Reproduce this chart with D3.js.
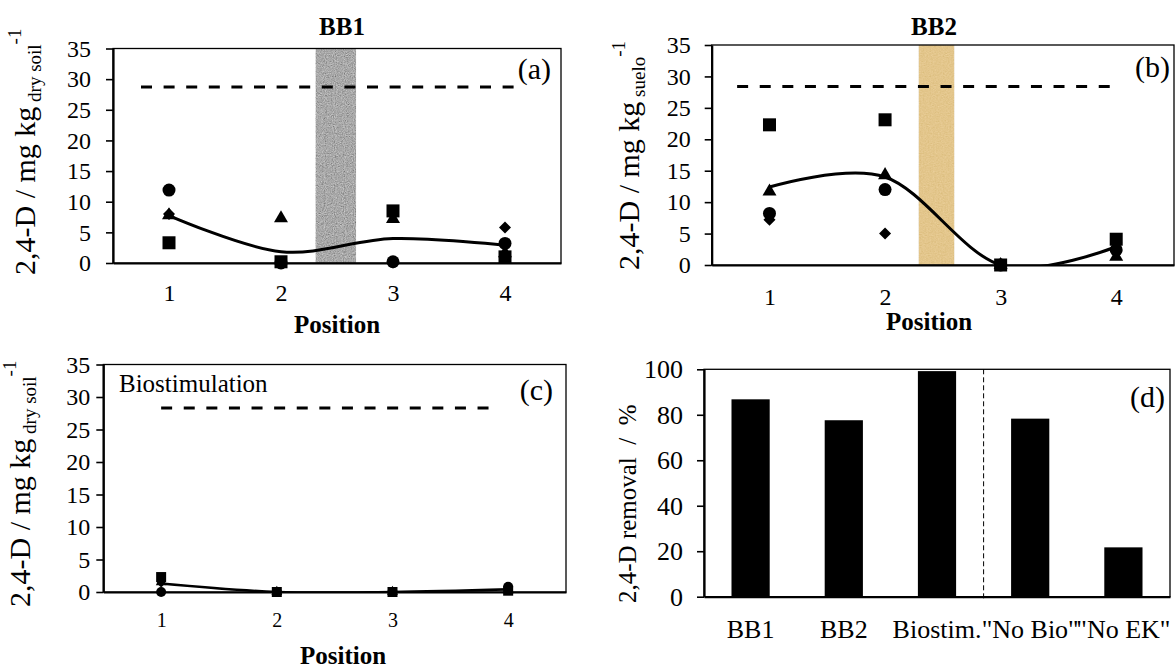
<!DOCTYPE html>
<html><head><meta charset="utf-8">
<script src="https://cdn.jsdelivr.net/npm/d3@7"></script>
<style>
body{margin:0;background:#fff}
svg{display:block;font-family:"Liberation Serif","Times New Roman",serif}
</style>
</head><body>
<svg id="chart" width="1176" height="668"></svg>
<script>
// ---------- DATA ----------
const positions = [1, 2, 3, 4];
const yTicksConc = [0, 5, 10, 15, 20, 25, 30, 35];

// (a) BB1
const bb1Circle   = [11.9, 0.0, 0.2, 3.2];
const bb1Triangle = [7.8, 7.3, 7.2, 1.6];
const bb1Square   = [3.3, 0.2, 8.5, 1.0];
const bb1Diamond  = [8.0, 0.0, 0.1, 5.8];
const bb1Mean     = [7.75, 1.85, 4.0, 2.9];
const bb1Initial  = 28.7;

// (b) BB2
const bb2Circle   = [8.2, 12.0, 0.0, 2.4];
const bb2Triangle = [11.7, 14.3, 0.0, 1.3];
const bb2Square   = [22.3, 23.1, 0.0, 4.1];
const bb2Diamond  = [7.2, 5.0, 0.0, 3.6];
const bb2Mean     = [12.4, 14.0, 0.0, 2.9];
const bb2Initial  = 28.4;

// (c) Biostimulation
const bioCircle   = [0.0, 0.0, 0.0, 0.8];
const bioTriangle = [1.5, 0.0, 0.0, 0.3];
const bioSquare   = [2.3, 0.0, 0.0, 0.2];
const bioDiamond  = [1.4, 0.0, 0.0, 0.3];
const bioMean     = [1.3, 0.0, 0.0, 0.4];
const bioInitial  = 28.3;

// (d) removal
const removalCategories = ["BB1", "BB2", "Biostim.", "\"No Bio\"", "\"No EK\""];
const removalValues     = [86.8, 77.6, 99.2, 78.3, 21.7];
const yTicksRemoval     = [0, 20, 40, 60, 80, 100];

// ---------- DRAW ----------
const svg = d3.select("#chart");
const defs = svg.append("defs");

function grainFilter(id, amp, freq) {
  const f = defs.append("filter").attr("id", id)
    .attr("x", 0).attr("y", 0).attr("width", 1).attr("height", 1);
  f.append("feTurbulence").attr("type", "fractalNoise")
    .attr("baseFrequency", freq).attr("numOctaves", 2).attr("seed", 3).attr("result", "n");
  f.append("feColorMatrix").attr("in", "n").attr("type", "matrix")
    .attr("values", "0.33 0.33 0.33 0 0  0.33 0.33 0.33 0 0  0.33 0.33 0.33 0 0  0 0 0 0 1")
    .attr("result", "g");
  f.append("feComposite").attr("in", "g").attr("in2", "SourceGraphic")
    .attr("operator", "arithmetic").attr("k1", 0).attr("k2", amp).attr("k3", 1).attr("k4", -amp / 2)
    .attr("result", "m");
  f.append("feComposite").attr("in", "m").attr("in2", "SourceGraphic").attr("operator", "in");
}
grainFilter("grainGrey", 0.9, 0.9);
grainFilter("grainTan", 0.25, "0.6 0.9");

function yLabel(g, x, yStart, main, sub, fontMain, fontSmall) {
  const t = g.append("text")
    .attr("transform", `translate(${x},${yStart}) rotate(-90)`)
    .attr("font-size", fontMain).attr("fill", "#000")
    .style("white-space", "pre");
  t.append("tspan").text(main);
  if (sub !== null) {
    t.append("tspan").attr("font-size", fontSmall).attr("dy", 6).text(sub);
    t.append("tspan").attr("font-size", fontSmall).attr("dy", -20).text("-1");
  }
  return t;
}

function scatterPanel(cfg, series, mean, initial) {
  const g = svg.append("g");
  const x = d3.scaleLinear().domain([0.5, 4.5]).range([cfg.x0, cfg.x1]);
  const y = d3.scaleLinear().domain([0, 35]).range([cfg.y1, cfg.y0]);
  const clipId = "clip" + cfg.id;
  defs.append("clipPath").attr("id", clipId).append("rect")
    .attr("x", cfg.x0).attr("y", cfg.y0).attr("width", cfg.x1 - cfg.x0).attr("height", cfg.y1 - cfg.y0);

  if (cfg.band) {
    g.append("rect")
      .attr("x", x(cfg.band[0])).attr("y", cfg.y0)
      .attr("width", x(cfg.band[1]) - x(cfg.band[0])).attr("height", cfg.y1 - cfg.y0)
      .attr("fill", cfg.bandColor).attr("filter", `url(#${cfg.bandFilter})`);
  }
  // frame
  g.append("rect").attr("x", cfg.x0).attr("y", cfg.y0)
    .attr("width", cfg.x1 - cfg.x0).attr("height", cfg.y1 - cfg.y0)
    .attr("fill", "none").attr("stroke", "#000").attr("stroke-width", 1.3);

  // axes
  const ya = g.append("g").attr("transform", `translate(${cfg.x0},0)`)
    .call(d3.axisLeft(y).tickValues(yTicksConc).tickSizeInner(7).tickSizeOuter(0).tickPadding(cfg.yPad));
  ya.select(".domain").attr("stroke-width", 2.2);
  ya.selectAll(".tick line").attr("stroke-width", 1.6);
  ya.selectAll("text").attr("font-size", cfg.yFont).attr("font-family", "Liberation Serif").attr("fill", "#000");

  const xa = g.append("g").attr("transform", `translate(0,${cfg.y1})`)
    .call(d3.axisBottom(x).tickValues(positions).tickSize(0).tickPadding(cfg.xPad).tickFormat(d3.format("d")));
  xa.select(".domain").attr("stroke-width", 2.2);
  xa.selectAll("text").attr("font-size", cfg.xFont).attr("font-family", "Liberation Serif").attr("fill", "#000");

  // initial concentration dashed line
  g.append("line")
    .attr("x1", x(cfg.dash[0])).attr("x2", x(cfg.dash[1]))
    .attr("y1", y(initial)).attr("y2", y(initial))
    .attr("stroke", "#000").attr("stroke-width", 3).attr("stroke-dasharray", "11,11.6");

  // markers
  const ms = cfg.ms;
  const shapes = [
    { vals: series.diamond, sym: d3.symbolSquare, size: ms * ms * 0.43, rot: 45 },
    { vals: series.triangle, sym: d3.symbolTriangle, size: ms * ms * 0.5, rot: 0 },
    { vals: series.circle, sym: d3.symbolCircle, size: Math.PI * ms * ms / 4, rot: 0 },
    { vals: series.square, sym: d3.symbolSquare, size: ms * ms, rot: 0 }
  ];
  shapes.forEach(s => {
    g.append("g").selectAll("path").data(s.vals).join("path")
      .attr("d", d3.symbol(s.sym, s.size))
      .attr("transform", (d, i) => `translate(${x(positions[i])},${y(d)}) rotate(${s.rot})`)
      .attr("fill", "#000");
  });

  // smoothed mean line
  const line = d3.line().x((d, i) => x(positions[i])).y(d => y(d)).curve(d3.curveCardinal.tension(0));
  g.append("path").datum(mean).attr("d", line)
    .attr("fill", "none").attr("stroke", "#000").attr("stroke-width", cfg.lw)
    .attr("clip-path", `url(#${clipId})`);

  // panel letter
  g.append("text").attr("x", cfg.x1 - cfg.letterInset).attr("y", cfg.letterY)
    .attr("text-anchor", "end").attr("font-size", 30).text(cfg.letter);

  if (cfg.title) {
    g.append("text").attr("x", cfg.titleX).attr("y", cfg.titleY)
      .attr("text-anchor", "middle").attr("font-size", 25).attr("font-weight", "bold").text(cfg.title);
  }
  g.append("text").attr("x", cfg.posX).attr("y", cfg.posY)
    .attr("text-anchor", "middle").attr("font-size", 25).attr("font-weight", "bold").text("Position");

  yLabel(g, cfg.labX, cfg.labY, "2,4-D / mg kg", cfg.sub, 30, 19);
  return { g, x, y };
}

scatterPanel({
  id: "a", x0: 113, x1: 561, y0: 48.5, y1: 263,
  band: [2.31, 2.67], bandColor: "#a9a9a9", bandFilter: "grainGrey",
  yPad: 15, xPad: 21, yFont: 24, xFont: 24, dash: [0.75, 4.15], ms: 13, lw: 3,
  letter: "(a)", letterInset: 10, letterY: 79, title: "BB1", titleX: 342, titleY: 35, posX: 337, posY: 333,
  labX: 35, labY: 275, sub: " dry soil"
}, { circle: bb1Circle, triangle: bb1Triangle, square: bb1Square, diamond: bb1Diamond }, bb1Mean, bb1Initial);

scatterPanel({
  id: "b", x0: 711.7, x1: 1174, y0: 45, y1: 265,
  band: [2.29, 2.60], bandColor: "#e3c68c", bandFilter: "grainTan",
  yPad: 14, xPad: 23, yFont: 24, xFont: 24, dash: [0.72, 4.02], ms: 13, lw: 3,
  letter: "(b)", letterInset: 4, letterY: 77, title: "BB2", titleX: 934, titleY: 35, posX: 929, posY: 330,
  labX: 639, labY: 270, sub: " suelo"
}, { circle: bb2Circle, triangle: bb2Triangle, square: bb2Square, diamond: bb2Diamond }, bb2Mean, bb2Initial);

const pc = scatterPanel({
  id: "c", x0: 103.3, x1: 566, y0: 364.5, y1: 592,
  band: null,
  yPad: 6, xPad: 21, yFont: 24, xFont: 20, dash: [1.0, 3.9], ms: 10, lw: 2.6,
  letter: "(c)", letterInset: 13, letterY: 400, title: null, posX: 343, posY: 664,
  labX: 30, labY: 607, sub: " dry soil"
}, { circle: bioCircle, triangle: bioTriangle, square: bioSquare, diamond: bioDiamond }, bioMean, bioInitial);
pc.g.append("text").attr("x", 119).attr("y", 392).attr("font-size", 25).text("Biostimulation");

// (d) bar chart
(function () {
  const x0 = 704, x1 = 1170, y0 = 369.3, y1 = 596.7;
  const g = svg.append("g");
  const x = d3.scaleBand().domain(removalCategories).range([x0, x1]).paddingInner(0.59).paddingOuter(0.295);
  const y = d3.scaleLinear().domain([0, 100]).range([y1, y0]);

  g.append("rect").attr("x", x0).attr("y", y0).attr("width", x1 - x0).attr("height", y1 - y0)
    .attr("fill", "none").attr("stroke", "#000").attr("stroke-width", 1.3);

  g.append("g").selectAll("rect").data(removalValues).join("rect")
    .attr("x", (d, i) => x(removalCategories[i])).attr("width", x.bandwidth())
    .attr("y", d => y(d)).attr("height", d => y1 - y(d)).attr("fill", "#000");

  // separator between Biostim. and "No Bio"
  const sepX = (x(removalCategories[2]) + x.bandwidth() + x(removalCategories[3])) / 2;
  g.append("line").attr("x1", sepX).attr("x2", sepX).attr("y1", y0).attr("y2", y1 + 4)
    .attr("stroke", "#000").attr("stroke-width", 1).attr("stroke-dasharray", "5,3");

  const ya = g.append("g").attr("transform", `translate(${x0},0)`)
    .call(d3.axisLeft(y).tickValues(yTicksRemoval).tickSizeInner(7).tickSizeOuter(0).tickPadding(14));
  ya.select(".domain").attr("stroke-width", 2.2);
  ya.selectAll(".tick line").attr("stroke-width", 1.6);
  ya.selectAll("text").attr("font-size", 26).attr("font-family", "Liberation Serif").attr("fill", "#000");

  const xa = g.append("g").attr("transform", `translate(0,${y1})`)
    .call(d3.axisBottom(x).tickSize(0).tickPadding(23));
  xa.select(".domain").attr("stroke-width", 2.2);
  xa.selectAll("text").attr("font-size", 26).attr("font-family", "Liberation Serif").attr("fill", "#000");

  g.append("text").attr("x", x1 - 5).attr("y", 407).attr("text-anchor", "end").attr("font-size", 30).text("(d)");

  yLabel(g, 636, 603, "2,4-D removal  /  %", null, 25, 0);
})();
</script>
</body></html>
